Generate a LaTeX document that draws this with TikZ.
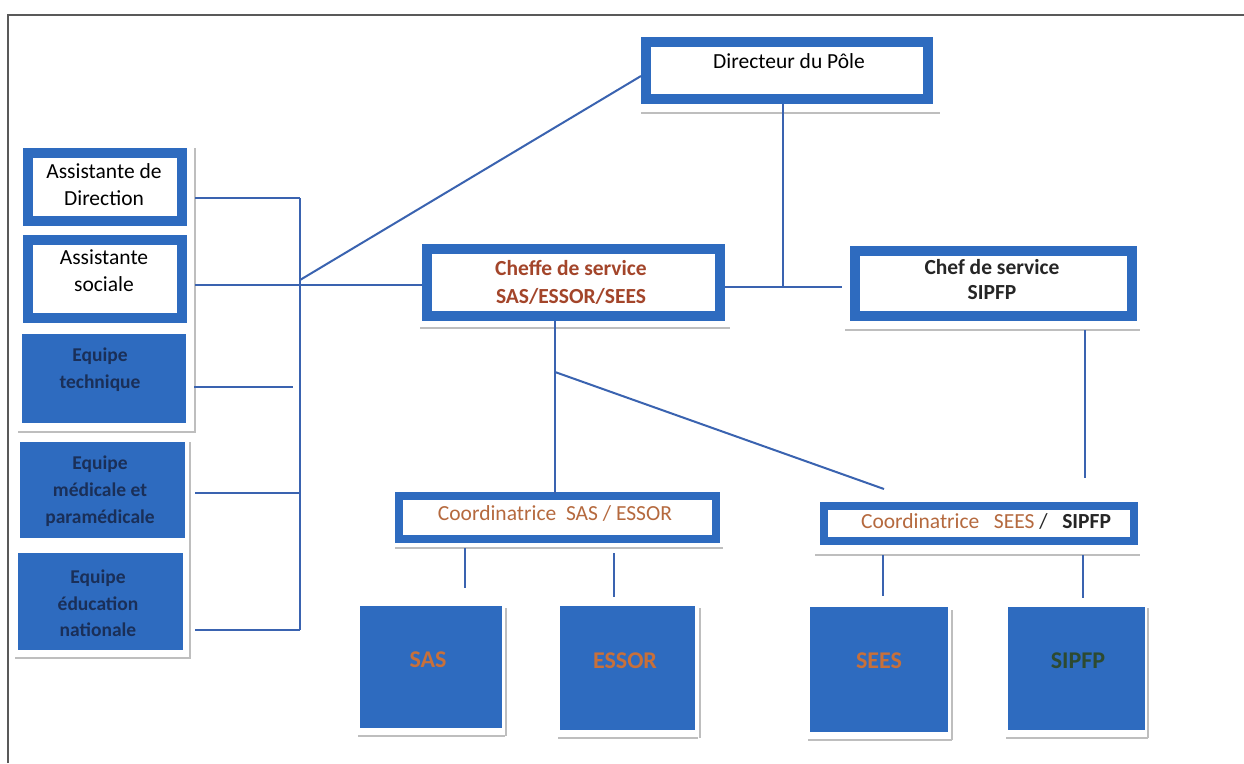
\documentclass[tikz,border=0pt]{standalone}
\usepackage{fontspec}
\setmainfont{Carlito}
\usetikzlibrary{calc}
\definecolor{bblue}{HTML}{2E6BBF}
\definecolor{lblue}{HTML}{3A63B0}
\definecolor{brownred}{HTML}{A3452A}
\definecolor{coordbrown}{HTML}{B5693E}
\definecolor{orangetxt}{HTML}{C8703A}
\definecolor{greentxt}{HTML}{2D4A30}
\definecolor{navytxt}{HTML}{1A2F58}
\definecolor{shadowgrey}{HTML}{BEBEBE}
\tikzset{
  framebox/.style={draw=bblue, line width=10pt, fill=white, inner sep=0pt, rectangle},
  thinframe/.style={draw=bblue, line width=8pt, fill=white, inner sep=0pt, rectangle},
  filledbox/.style={fill=bblue, draw=none, inner sep=0pt, rectangle},
  conn/.style={draw=lblue, line width=2pt},
  shadowline/.style={draw=shadowgrey, line width=1.5pt},
  lbl/.style={inner sep=0pt, align=center, font=\fontsize{21.5}{27}\selectfont},
  teamlbl/.style={inner sep=0pt, align=center, text=navytxt, font=\bfseries\fontsize{19.5}{27}\selectfont},
  unitlbl/.style={inner sep=0pt, font=\bfseries\fontsize{24}{28}\selectfont},
}
\begin{document}
\begin{tikzpicture}[x=1pt,y=-1pt]
\useasboundingbox (0,0) rectangle (1244,763);
\fill[white] (0,0) rectangle (1244,763);
% page frame
\draw[draw=black!65, line width=1.5pt] (8,763) -- (8,15) -- (1244,15);

% shadows
\draw[shadowline] (641,113) -- (940,113);
\draw[shadowline] (420,328) -- (730,328);
\draw[shadowline] (845,330) -- (1140,330);
\draw[shadowline] (395,548) -- (723,548);
\draw[shadowline] (815,555) -- (1140,555);
\draw[shadowline] (195,148) -- (195,432) -- (18,432);
\draw[shadowline] (190,442) -- (190,658) -- (15,658);
\draw[shadowline] (358,736) -- (505,736);
\draw[shadowline] (558,738) -- (698,738);
\draw[shadowline] (808,740) -- (952,740);
\draw[shadowline] (1006,738) -- (1148,738);
\draw[shadowline] (952,610) -- (952,740);
\draw[shadowline] (506,608) -- (506,736);
\draw[shadowline] (700,608) -- (700,738);
\draw[shadowline] (1148,608) -- (1148,738);

% boxes
\node[framebox, minimum width=282, minimum height=57] (dir) at (787,70.5) {};
\node[framebox, minimum width=293, minimum height=67] (cheffe) at (573.5,282.5) {};
\node[framebox, minimum width=277, minimum height=65] (chef) at (993.5,283.5) {};
\node[framebox, minimum width=154, minimum height=68] (ad) at (105,187) {};
\node[framebox, minimum width=154, minimum height=78] (as) at (105,279) {};
\node[filledbox, minimum width=164, minimum height=89] (et) at (104,378.5) {};
\node[filledbox, minimum width=165, minimum height=96] (em) at (102.5,490) {};
\node[filledbox, minimum width=165, minimum height=97] (ee) at (100.5,601.5) {};
\node[thinframe, minimum width=317, minimum height=43] (csas) at (557.5,517.5) {};
\node[thinframe, minimum width=310, minimum height=35] (csees) at (979,523.5) {};
\node[filledbox, minimum width=142, minimum height=122] (bsas) at (431,667) {};
\node[filledbox, minimum width=135, minimum height=124] (bessor) at (627.5,668) {};
\node[filledbox, minimum width=138, minimum height=125] (bsees) at (879,669.5) {};
\node[filledbox, minimum width=137, minimum height=123] (bsipfp) at (1076.5,668.5) {};

% texts
\node[lbl] (tdir) at (789,61) {Directeur du Pôle};
\node[lbl, text=brownred, font=\bfseries\fontsize{21.5}{28}\selectfont] (tcheffe) at (571,282) {Cheffe de service\\SAS/ESSOR/SEES};
\node[lbl, text=black!85, font=\bfseries\fontsize{21.5}{25}\selectfont] (tchef) at (992,279.5) {Chef de service\\SIPFP};
\node[lbl] (tad) at (104,184.5) {Assistante de\\Direction};
\node[lbl] (tas) at (104,270.5) {Assistante\\sociale};
\node[teamlbl] (tet) at (100,369.5) {Equipe\\technique};
\node[teamlbl] (tem) at (100,491) {Equipe\\médicale et\\paramédicale};
\node[teamlbl, font=\bfseries\fontsize{19.5}{26.5}\selectfont] (tee) at (98,603.5) {Equipe\\éducation\\nationale};
\node[lbl, text=coordbrown, font=\fontsize{21.5}{24}\selectfont] (tcsas) at (555,513) {Coordinatrice\ \ SAS / ESSOR};
\node[lbl, font=\fontsize{21.5}{24}\selectfont] (tcsees) at (986,521) {\textcolor{coordbrown}{Coordinatrice\ \ \ SEES}\ \textcolor{black!85}{/\ \ \ \textbf{SIPFP}}};
\node[unitlbl, text=orangetxt] (tbsas) at (428,660) {SAS};
\node[unitlbl, text=orangetxt] (tbessor) at (625,661) {ESSOR};
\node[unitlbl, text=orangetxt] (tbsees) at (879,661) {SEES};
\node[unitlbl, text=greentxt] (tbsipfp) at (1078,661) {SIPFP};

% junction coordinates
\coordinate (b1) at (300,198);
\coordinate (b2) at (300,285);
\coordinate (b3) at (293,387);
\coordinate (b4) at (300,493);
\coordinate (b5) at (300,630);
\coordinate (bd) at (300,280);
\coordinate (jd) at (783,287);
\coordinate (jc) at (555,372);
\coordinate (sees) at (884,489);
\coordinate (xs1) at (465,0);
\coordinate (xs2) at (614,0);
\coordinate (xs3) at (883,0);
\coordinate (xs4) at (1083,0);
\coordinate (xs5) at (1085,0);

% left connectors
\draw[conn] ([xshift=8pt]ad.east |- b1) -- (b1);
\draw[conn] ([xshift=8pt]as.east |- b2) -- (b2) -- (cheffe.west |- b2);
\draw[conn] ([xshift=8pt]et.east |- b3) -- (b3);
\draw[conn] ([xshift=10pt]em.east |- b4) -- (b4);
\draw[conn] ([xshift=12pt]ee.east |- b5) -- (b5);
\draw[conn] (b1) -- (b5);
\draw[conn] (bd) -- (dir.west |- 0,76);

% top connectors
\draw[conn] (dir.south -| jd) -- (jd);
\draw[conn] (cheffe.east |- jd) -- ([xshift=-8pt]chef.west |- jd);
\draw[conn] (cheffe.south -| jc) -- ([yshift=-2pt]csas.north -| jc);
\draw[conn] (jc) -- (sees);
\draw[conn, shorten <=9pt, shorten >=24pt] (chef.south -| xs5) -- (csees.north -| xs5);

% lower connectors
\draw[conn, shorten <=5pt, shorten >=18pt] (csas.south -| xs1) -- (bsas.north -| xs1);
\draw[conn, shorten <=10pt, shorten >=9pt] (csas.south -| xs2) -- (bessor.north -| xs2);
\draw[conn, shorten <=10pt, shorten >=11pt] (csees.south -| xs3) -- (bsees.north -| xs3);
\draw[conn, shorten <=10pt, shorten >=9pt] (csees.south -| xs4) -- (bsipfp.north -| xs4);
\end{tikzpicture}
\end{document}
